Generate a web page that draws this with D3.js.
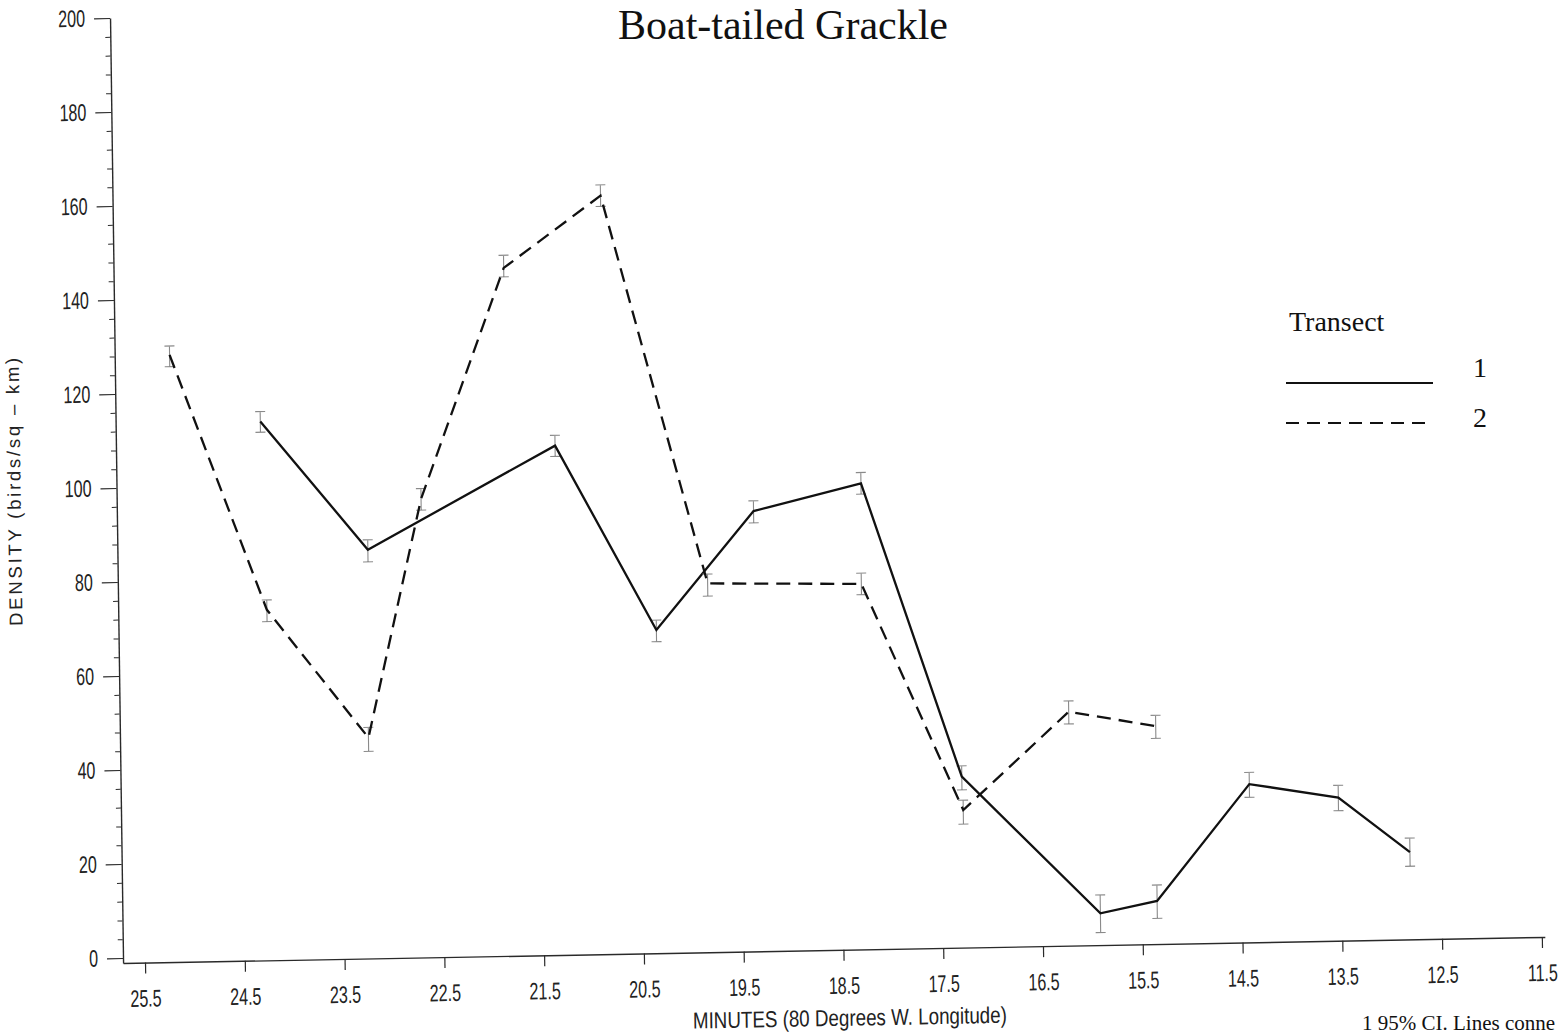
<!DOCTYPE html>
<html>
<head>
<meta charset="utf-8">
<script src="https://cdn.jsdelivr.net/npm/d3@7"></script>
<style>
  html, body { margin: 0; padding: 0; background: #fff; overflow: hidden; }
  svg { display: block; }
</style>
</head>
<body>
<svg id="chart" width="1559" height="1036"></svg>
<script>
// ---------------- data ----------------
const titleText = "Boat-tailed Grackle";
const xTitle = "MINUTES (80 Degrees W. Longitude)";
const yTitle = "DENSITY (birds/sq \u2013 km)";
const legendTitle = "Transect";
const seriesNames = ["1", "2"];
const footText = "1 95% CI. Lines conne";

const xTickValues = [25.5, 24.5, 23.5, 22.5, 21.5, 20.5, 19.5, 18.5, 17.5, 16.5, 15.5, 14.5, 13.5, 12.5, 11.5];
const yTickValues = [0, 20, 40, 60, 80, 100, 120, 140, 160, 180, 200];
const yMinorTickValues = [4, 8, 12, 16, 24, 28, 32, 36, 44, 48, 52, 56, 64, 68, 72, 76, 84, 88, 92, 96,
  104, 108, 112, 116, 124, 128, 132, 136, 144, 148, 152, 156, 164, 168, 172, 176, 184, 188, 192, 196];

// Transect 1 (solid)
const t1X  = [24.27, 23.21, 21.32, 20.33, 19.34, 18.26, 17.29, 15.92, 15.35, 14.41, 13.52, 12.81];
const t1Y  = [113.6, 85.9, 107.3, 67.7, 92.6, 98.1, 35.3, 5.7, 8.1, 32.6, 29.4, 17.5];
const t1Lo = [111.3, 83.3, 105.0, 65.2, 90.1, 95.8, 32.5, 1.6, 4.4, 29.8, 26.6, 14.5];
const t1Hi = [115.7, 88.0, 109.5, 69.8, 94.8, 100.4, 37.6, 9.6, 11.5, 35.1, 32.0, 20.5];

// Transect 2 (dashed)
const t2X  = [25.17, 24.23, 23.23, 22.67, 21.81, 20.83, 19.81, 18.27, 17.28, 16.21, 15.34];
const t2Y  = [128.1, 73.5, 45.9, 96.5, 145.3, 160.3, 77.4, 76.7, 28.2, 48.7, 45.3];
const t2Lo = [125.6, 71.0, 43.0, 94.1, 143.4, 158.0, 74.7, 74.4, 25.2, 46.1, 42.7];
const t2Hi = [130.0, 75.6, 48.1, 98.7, 148.0, 162.6, 79.4, 79.0, 30.3, 51.0, 47.6];

// ---------------- layout ----------------
const svg = d3.select("#chart");

// the scanned plot area is slightly rotated / skewed
const ang = 1.05 * Math.PI / 180;
const ma = Math.cos(ang), mb = -Math.sin(ang), mc = 0.0138, md = 1;
const Cx = 123, Cy = 958;
const me = Cx - ma * Cx - mc * Cy, mf = Cy - mb * Cx - md * Cy;
const g = svg.append("g").attr("transform", `matrix(${ma},${mb},${mc},${md},${me},${mf})`);

const x = d3.scaleLinear().domain([25.72, 11.47]).range([123, 1545]);
const y = d3.scaleLinear().domain([-1.06, 200]).range([963, 18]);

const axisColor = "#2a2a2a";
const tickFont = "'Liberation Sans', Arial, sans-serif";
const serif = "'Liberation Serif', 'Times New Roman', serif";
const sx = 0.67;

// X axis
const xAxis = g.append("g").attr("transform", `translate(0,${y(-1.06)})`)
  .call(d3.axisBottom(x).tickValues(xTickValues).tickFormat(d3.format(".1f"))
    .tickSize(11).tickSizeOuter(0).tickPadding(16));
xAxis.select(".domain").attr("stroke", axisColor).attr("stroke-width", 1.4);
xAxis.selectAll(".tick line").attr("stroke", axisColor).attr("stroke-width", 1.2);
xAxis.selectAll("text").attr("fill", "#222").style("font-family", tickFont).style("font-size", "24px")
  .attr("transform", `scale(${sx},1)`);

// Y axis (major)
const yAxis = g.append("g").attr("transform", `translate(${x(25.72)},0)`)
  .call(d3.axisLeft(y).tickValues(yTickValues).tickFormat(d3.format("d"))
    .tickSize(16).tickSizeOuter(0).tickPadding(9));
yAxis.select(".domain").attr("stroke", axisColor).attr("stroke-width", 1.4);
yAxis.selectAll(".tick line").attr("stroke", axisColor).attr("stroke-width", 1.2);
yAxis.selectAll("text").attr("fill", "#222").style("font-family", tickFont).style("font-size", "24px")
  .attr("x", function () { return +this.getAttribute("x") / sx; })
  .attr("transform", `scale(${sx},1)`);

// Y axis (minor)
const yMinor = g.append("g").attr("transform", `translate(${x(25.72)},0)`)
  .call(d3.axisLeft(y).tickValues(yMinorTickValues).tickFormat("").tickSize(5).tickSizeOuter(0));
yMinor.select(".domain").remove();
yMinor.selectAll(".tick line").attr("stroke", axisColor).attr("stroke-width", 1);

// Axis titles
g.append("text")
  .attr("x", 849).attr("y", 1039)
  .attr("text-anchor", "middle")
  .attr("textLength", 314).attr("lengthAdjust", "spacingAndGlyphs")
  .style("font-family", tickFont).style("font-size", "23px").attr("fill", "#222")
  .text(xTitle);

g.append("text")
  .attr("transform", "translate(27,490) rotate(-90)")
  .attr("text-anchor", "middle")
  .attr("textLength", 268).attr("lengthAdjust", "spacing")
  .style("font-family", tickFont).style("font-size", "18.5px").attr("fill", "#222")
  .text(yTitle);

// ---------------- marks ----------------
const series = [
  { xs: t1X, ys: t1Y, lo: t1Lo, hi: t1Hi, dash: null },
  { xs: t2X, ys: t2Y, lo: t2Lo, hi: t2Hi, dash: "14,8" }
];

const capW = 5;
series.forEach(s => {
  const pts = s.xs.map((d, i) => ({ x: d, y: s.ys[i], lo: s.lo[i], hi: s.hi[i] }));
  const eb = g.append("g").attr("stroke", "#8a8a8a").attr("stroke-width", 1.1).attr("fill", "none");
  eb.selectAll("path").data(pts).enter().append("path")
    .attr("d", p => {
      const px = x(p.x), y1 = y(p.hi), y2 = y(p.lo);
      return `M${px - capW},${y1}H${px + capW}M${px},${y1}V${y2}M${px - capW},${y2}H${px + capW}`;
    });
  const line = d3.line().x(p => x(p.x)).y(p => y(p.y));
  g.append("path").datum(pts)
    .attr("d", line)
    .attr("fill", "none")
    .attr("stroke", "#111")
    .attr("stroke-width", 2.3)
    .attr("stroke-linejoin", "miter")
    .attr("stroke-dasharray", s.dash);
});

// ---------------- overlaid texts (level on the page) ----------------
svg.append("text")
  .attr("x", 783).attr("y", 39)
  .attr("text-anchor", "middle")
  .style("font-family", serif).style("font-size", "42px")
  .attr("fill", "#111")
  .text(titleText);

const lg = svg.append("g");
lg.append("text").attr("x", 1289).attr("y", 331)
  .style("font-family", serif).style("font-size", "28px").attr("fill", "#111").text(legendTitle);
const legendRows = [
  { y: 383, ty: 377, x2: 1433, dash: null, name: seriesNames[0] },
  { y: 423, ty: 427, x2: 1428, dash: "13,8", name: seriesNames[1] }
];
legendRows.forEach(r => {
  lg.append("line").attr("x1", 1286).attr("x2", r.x2).attr("y1", r.y).attr("y2", r.y)
    .attr("stroke", "#111").attr("stroke-width", 2.2).attr("stroke-dasharray", r.dash);
  lg.append("text").attr("x", 1473).attr("y", r.ty)
    .style("font-family", serif).style("font-size", "28px").attr("fill", "#111").text(r.name);
});

// footnote fragment at the bottom right
svg.append("text").attr("x", 1362).attr("y", 1030)
  .style("font-family", serif).style("font-size", "21px").attr("fill", "#111")
  .text(footText);
</script>
</body>
</html>
